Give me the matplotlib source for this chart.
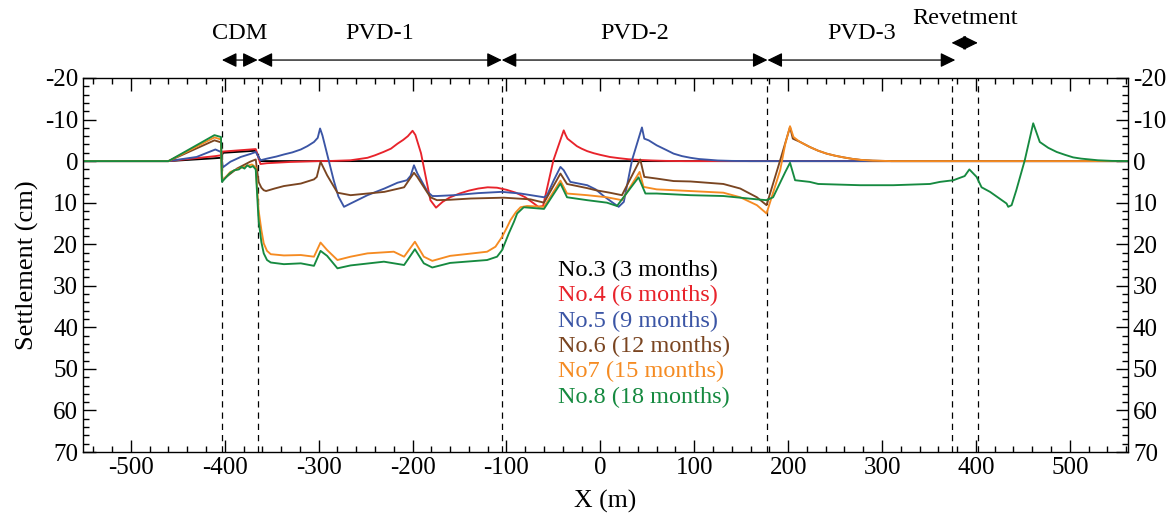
import matplotlib
matplotlib.use("Agg")
import matplotlib.pyplot as plt
from matplotlib.ticker import MultipleLocator

plt.rcParams['font.family'] = ['Liberation Serif', 'DejaVu Serif']
plt.rcParams['axes.unicode_minus'] = False

# ---------------- data (X in m, settlement in cm; negative = heave) ----------------
no3_pts = [(-560, 0), (-460, 0), (-410, -0.7), (-404, -0.8), (-402, -2.0), (-367, -2.5),
           (-362, 0), (565, 0)]

no4_pts = [(-560, 0), (-460, 0), (-410, -1.2), (-404, -1.4), (-402, -2.3), (-367, -2.9),
           (-362, 0.7), (-355, 0.5), (-330, 0.2), (-300, 0), (-285, -0.05), (-266, -0.2),
           (-248, -0.8), (-240, -1.4), (-231, -2.2), (-223, -3.0), (-216, -4.2), (-210, -5.1),
           (-205, -6.0), (-200, -7.3), (-197, -6.3), (-191, -1.9), (-181, 9.4), (-175, 11.2),
           (-168, 9.8), (-160, 8.7), (-150, 7.8), (-140, 7.1), (-130, 6.6), (-120, 6.3),
           (-110, 6.4), (-100, 6.9), (-90, 7.6), (-80, 8.7), (-72, 10.0), (-66, 11.0),
           (-61, 10.8), (-50, -0.2), (-39, -7.4), (-37, -6.3), (-35, -5.4), (-30, -4.5),
           (-25, -3.6), (-20, -3.0), (-14, -2.4), (-7, -1.9), (0, -1.5), (10, -1.0),
           (20, -0.7), (30, -0.45), (40, -0.3), (55, -0.15), (70, -0.05), (90, 0), (565, 0)]

no5_pts = [(-560, 0), (-460, 0), (-430, -1.0), (-410, -2.8), (-404, -2.2), (-402, 1.5),
           (-394, 0.15), (-383, -1.0), (-373, -1.7), (-367, -2.2), (-362, -0.2), (-355, -0.6),
           (-345, -1.1), (-337, -1.6), (-328, -2.1), (-319, -2.8), (-312, -3.6), (-305, -4.6),
           (-301, -5.6), (-298.5, -7.85), (-296, -6.2), (-284, 4.6), (-279, 8.5), (-273, 11.0),
           (-266, 10.2), (-257, 9.2), (-248, 8.2), (-239, 7.4), (-230, 6.6), (-216, 5.2),
           (-206, 4.6), (-202, 3.5), (-198.5, 1.0), (-195, 2.9), (-184, 7.4), (-179, 8.4),
           (-174, 8.4), (-156, 8.2), (-130, 7.7), (-105, 7.4), (-85, 7.8), (-60, 8.7),
           (-56.7, 8.2), (-49.6, 4.6), (-42.5, 1.4), (-39, 2.2), (-32, 5.0), (-14, 5.8),
           (-5, 6.8), (3.5, 8.4), (12, 9.8), (19.5, 11.0), (25, 9.8), (33.7, -0.2),
           (44.3, -8.1), (46.8, -5.4), (51.5, -5.0), (60, -3.8), (70, -2.7), (78, -1.8),
           (87, -1.2), (96, -0.8), (105, -0.5), (114, -0.35), (125, -0.15), (140, -0.05),
           (160, 0), (565, 0)]

no6_pts = [(-560, 0), (-460, 0), (-411, -5.0), (-404, -4.5), (-403, 4.6), (-387, 1.8),
           (-373, 0.15), (-367, -0.4), (-364, 5.0), (-361, 6.4), (-358.5, 7.0), (-356, 7.2),
           (-347, 6.6), (-337, 6.0), (-319, 5.4), (-305, 4.4), (-302, 3.8), (-298, 0.15),
           (-291, 3.4), (-280, 7.6), (-266, 8.2), (-230, 7.4), (-209, 6.3), (-198.5, 2.8),
           (-195, 3.8), (-181, 8.7), (-174, 9.4), (-160, 9.3), (-138, 9.0), (-103, 8.8),
           (-74.5, 9.2), (-60, 10.0), (-42.5, 3.0), (-35.5, 5.5), (-14, 6.5), (-5, 7.0),
           (10, 7.6), (23, 8.2), (42.5, -0.4), (46.8, 3.8), (60, 4.2), (78, 4.8), (96, 4.9),
           (131, 5.5), (149, 6.6), (166.7, 8.7), (177, 10.6), (191.5, -0.2), (202, -8.2),
           (205, -5.4), (212, -4.7), (223, -3.4), (232, -2.5), (241, -1.8), (250, -1.3),
           (259, -0.9), (268, -0.55), (277, -0.3), (290, -0.12), (310, 0), (565, 0)]

no7_pts = [(-560, 0), (-460, 0), (-411, -5.7), (-404, -5.2), (-403, 4.8), (-394, 2.6),
           (-380, 1.4), (-371, 0.8), (-367, 1.5), (-364, 11.8), (-361, 16.6), (-358.5, 19.8),
           (-355, 21.6), (-351, 22.4), (-337, 22.7), (-319, 22.6), (-305, 23.0), (-298, 19.6),
           (-291, 21.4), (-280, 23.8), (-266, 23.0), (-248, 22.2), (-220, 21.8), (-209, 23.0),
           (-197.5, 19.4), (-188, 23.0), (-179, 24.0), (-160, 22.8), (-140, 22.3),
           (-120.6, 21.8), (-111.7, 20.6), (-104.6, 18.2), (-100, 16.2), (-95.7, 14.2),
           (-90, 12.3), (-85, 11.1), (-78, 10.8), (-60, 11.0), (-42.5, 4.7), (-35.5, 7.8),
           (-14, 8.2), (7, 8.7), (23, 9.4), (41.8, 2.6), (46, 6.2), (60, 6.8), (78, 7.0),
           (131, 7.6), (149, 8.7), (166.7, 10.6), (177, 12.6), (191.5, 2.2), (197, -4.2),
           (202, -8.4), (205.7, -5.8), (212, -4.7), (223, -3.4), (232, -2.5), (241, -1.8),
           (250, -1.3), (259, -0.9), (268, -0.55), (277, -0.3), (290, -0.12), (310, 0),
           (565, 0)]

no8_pts = [(-560, 0), (-460, 0), (-411, -6.25), (-404, -5.8), (-403, 5.0), (-395, 3.0),
           (-390, 2.2), (-385, 2.0), (-382, 1.4), (-379, 1.8), (-376, 1.0), (-373, 1.5),
           (-370, 1.2), (-367, 2.0), (-364, 14.2), (-361, 19.5), (-358.5, 22.2), (-355, 23.8),
           (-351, 24.4), (-337, 24.8), (-319, 24.6), (-305, 25.2), (-298, 21.6), (-291, 22.8),
           (-280, 25.8), (-266, 25.1), (-230.5, 24.2), (-209, 25.0), (-197.5, 21.2),
           (-188, 24.6), (-179, 25.6), (-160, 24.5), (-120.6, 23.8), (-110, 23.0),
           (-104.6, 21.4), (-97.5, 17.4), (-92, 14.6), (-88.6, 12.6), (-81.6, 11.1),
           (-60, 11.5), (-42.5, 5.4), (-35.5, 8.7), (-14, 9.4), (7, 10.0), (17.7, 10.8),
           (40.7, 3.9), (48, 7.8), (60, 7.8), (96, 8.2), (131, 8.4), (166.7, 9.2), (177, 9.4),
           (184, 8.7), (197, 2.6), (202, 0.4), (207.4, 4.6), (223, 5.0), (232, 5.5),
           (276.6, 5.8), (312, 5.8), (351, 5.5), (361.7, 5.0), (376, 4.6), (388, 3.6),
           (393, 2.0), (400.7, 3.8), (406, 6.3), (415, 7.4), (432.6, 10.2), (434.4, 11.0),
           (438, 10.6), (443, 7.0), (452, -0.2), (461, -9.1), (468, -4.6), (477, -3.2),
           (486, -2.2), (495, -1.5), (503.5, -0.9), (512, -0.6), (521, -0.4), (530, -0.2),
           (545, -0.05), (565, 0)]

series_labels = ["No.3 (3 months)", "No.4 (6 months)", "No.5 (9 months)",
                 "No.6 (12 months)", "No7 (15 months)", "No.8 (18 months)"]
series_colors = ["#000000", "#e8232b", "#3b55a5", "#7a4521", "#f58b22", "#168a40"]

zone_names = ["CDM", "PVD-1", "PVD-2", "PVD-3", "Revetment"]
zone_bounds = [(-403, -365), (-365, -105), (-105, 178), (178, 378), (374, 402)]
dash_x = [-403, -365, -105, 178, 374, 402]

x_ticks = [-500, -400, -300, -200, -100, 0, 100, 200, 300, 400, 500]
y_ticks = [-20, -10, 0, 10, 20, 30, 40, 50, 60, 70]

# ---------------- figure ----------------
fig = plt.figure(figsize=(11.72, 5.27), dpi=100)
ax = fig.add_axes([0.0708, 0.1423, 0.8917, 0.7097])

all_pts = [no3_pts, no4_pts, no5_pts, no6_pts, no7_pts, no8_pts]
for pts, col in zip(all_pts, series_colors):
    xs = [p[0] for p in pts]
    ys = [p[1] for p in pts]
    ax.plot(xs, ys, color=col, lw=1.35, solid_joinstyle='round')

for xv in dash_x:
    ax.axvline(xv, color='black', lw=0.9, ls=(0, (5, 4)), zorder=0)

ax.set_xlim(-551, 562)
ax.set_ylim(70, -20)
ax.set_xticks(x_ticks)
ax.set_yticks(y_ticks)
ax.xaxis.set_minor_locator(MultipleLocator(20))
ax.yaxis.set_minor_locator(MultipleLocator(2))
ax.tick_params(which='both', direction='in', top=True, right=True, labelright=True,
               labelsize=18, width=1.0)
ax.tick_params(which='major', length=9)
ax.tick_params(which='minor', length=4.5)
for sp in ax.spines.values():
    sp.set_linewidth(1.0)

ax.set_xlabel("X (m)", fontsize=18.5, labelpad=8)
ax.set_ylabel("Settlement (cm)", fontsize=19, labelpad=4)

# legend as coloured text
leg_y = [26.2, 32.4, 38.5, 44.6, 50.7, 56.8]
for lab, col, yy in zip(series_labels, series_colors, leg_y):
    ax.text(-45, yy, lab, color=col, fontsize=17.5, va='center', ha='left')

# zone arrows and names above the axes
trans = ax.get_xaxis_transform()
arrow_y = [1.048, 1.048, 1.048, 1.048, 1.094]
text_y = [1.12, 1.12, 1.12, 1.12, 1.16]
for name, (x0, x1), ay, ty in zip(zone_names, zone_bounds, arrow_y, text_y):
    ax.annotate("", xy=(x1, ay), xytext=(x0, ay), xycoords=trans, textcoords=trans,
                arrowprops=dict(arrowstyle='<|-|>,head_length=0.45,head_width=0.22',
                                color='black', lw=0.9, mutation_scale=20,
                                shrinkA=0, shrinkB=0),
                annotation_clip=False)
    ax.text((x0 + x1) / 2, ty, name, transform=trans, ha='center', va='center',
            fontsize=17.5)

fig.savefig("out.png", dpi=100)
